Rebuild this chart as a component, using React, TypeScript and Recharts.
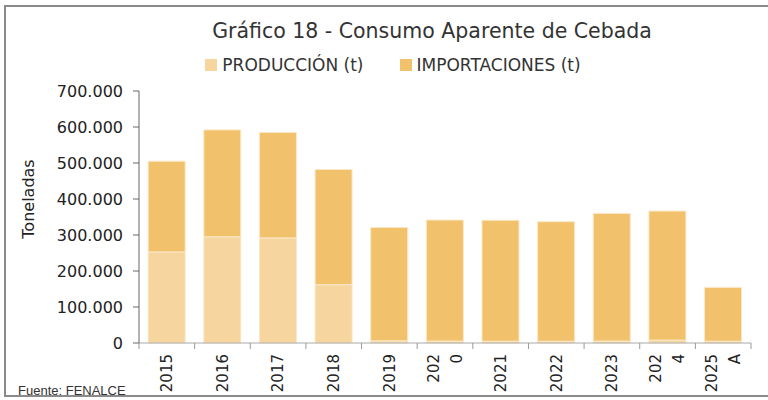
import { BarChart, Bar, XAxis, YAxis, Legend } from "recharts";

const years = ["2015", "2016", "2017", "2018", "2019", "2020", "2021", "2022", "2023", "2024", "2025A"];
// the year labels wrap like in the original (| = line break)
const yearLabels = ["2015", "2016", "2017", "2018", "2019", "202|0", "2021", "2022", "2023", "202|4", "2025|A"];
const produccion = [253000, 295000, 292000, 162000, 6000, 5500, 5000, 5000, 5500, 8000, 5000];
const importaciones = [252000, 297000, 293000, 320000, 315000, 336000, 336000, 332000, 354500, 358500, 149500];
const yTicks = [0, 100000, 200000, 300000, 400000, 500000, 600000, 700000];
const legendOrder = ["PRODUCCIÓN (t)", "IMPORTACIONES (t)"];

const data = years.map((year, i) => ({
  year,
  produccion: produccion[i],
  importaciones: importaciones[i],
}));

const FONT = "'DejaVu Sans', sans-serif";
const PROD_COLOR = "#F6D59F";
const IMP_COLOR = "#F2C16C";

const fmt = (v: number) => String(v).replace(/\B(?=(\d{3})+(?!\d))/g, ".");

function YearTick(props: any) {
  const { x, y, payload, index } = props;
  const half = payload.offset ?? 0;
  const lines = yearLabels[index].split("|");
  const lh = 23;
  const top = y - 10;
  return (
    <g>
      <line x1={x - half} x2={x - half} y1={top} y2={top + 6} stroke="#999" />
      {index === years.length - 1 && (
        <line x1={x + half} x2={x + half} y1={top} y2={top + 6} stroke="#999" />
      )}
      <g transform={`translate(${x},${y + 1}) rotate(-90)`}>
        {lines.map((t, i) => (
          <text
            key={i}
            x={0}
            y={(i - (lines.length - 1) / 2) * lh}
            dy="0.36em"
            textAnchor="end"
            fontSize={15}
            fontFamily={FONT}
            fill="#222"
          >
            {t}
          </text>
        ))}
      </g>
    </g>
  );
}

function LegendBox(props: any) {
  const items = [...(props.payload || [])].sort(
    (a: any, b: any) => legendOrder.indexOf(a.value) - legendOrder.indexOf(b.value)
  );
  return (
    <div
      style={{
        display: "flex",
        justifyContent: "center",
        gap: 36,
        paddingLeft: 18,
        fontFamily: FONT,
        fontSize: 17,
        color: "#333",
      }}
    >
      {items.map((it: any) => (
        <span key={it.value} style={{ display: "flex", alignItems: "center" }}>
          <span style={{ width: 12, height: 12, background: it.color, marginRight: 5, display: "inline-block" }} />
          {it.value}
        </span>
      ))}
    </div>
  );
}

export default function App() {
  return (
    <div style={{ position: "absolute", left: 0, top: 0, width: 768, height: 400, overflow: "hidden", background: "#fff" }}>
      <div
        style={{
          position: "absolute",
          left: 4,
          top: 5,
          width: 770,
          height: 392,
          borderTop: "2px solid #8a8a8a",
          borderLeft: "2px solid #8a8a8a",
          borderBottom: "2px solid #8a8a8a",
          boxSizing: "border-box",
        }}
      />
      <div
        style={{
          position: "absolute",
          left: 0,
          top: 19,
          width: 864,
          textAlign: "center",
          fontFamily: FONT,
          fontSize: 20.5,
          color: "#333",
        }}
      >
        Gráfico 18 - Consumo Aparente de Cebada
      </div>
      <div style={{ position: "absolute", left: 0, top: 0 }}>
        <BarChart
          width={768}
          height={400}
          data={data}
          barCategoryGap="16.5%"
          margin={{ top: 91, right: 17, bottom: 7, left: 0 }}
        >
          <XAxis
            dataKey="year"
            height={50}
            interval={0}
            tickLine={false}
            tickSize={6}
            tickMargin={4}
            axisLine={{ stroke: "#aaa" }}
            tick={<YearTick />}
          />
          <YAxis
            width={139}
            domain={[0, 700000]}
            ticks={yTicks}
            tickFormatter={fmt}
            tickSize={6}
            tickMargin={10}
            axisLine={{ stroke: "#666" }}
            tickLine={{ stroke: "#666" }}
            tick={{ fontSize: 16, fontFamily: FONT, fill: "#222" }}
            label={({ viewBox }: any) => (
              <text
                transform={`translate(${viewBox.x + 28},${viewBox.y + viewBox.height / 2 - 18}) rotate(-90)`}
                textAnchor="middle"
                dy="0.36em"
                fontSize={16}
                fontFamily={FONT}
                fill="#222"
              >
                Toneladas
              </text>
            )}
          />
          <Legend
            layout="horizontal"
            verticalAlign="middle"
            wrapperStyle={{ top: 55, left: 0, width: 768 }}
            content={<LegendBox />}
          />
          <Bar
            dataKey="produccion"
            name="PRODUCCIÓN (t)"
            stackId="a"
            fill={PROD_COLOR}
            stroke="#FBE8C8"
            strokeWidth={1}
            isAnimationActive={false}
          />
          <Bar
            dataKey="importaciones"
            name="IMPORTACIONES (t)"
            stackId="a"
            fill={IMP_COLOR}
            stroke="#FBE8C8"
            strokeWidth={1}
            isAnimationActive={false}
          />
        </BarChart>
      </div>
      <div
        style={{
          position: "absolute",
          left: 18,
          top: 383,
          fontFamily: "'Liberation Sans', sans-serif",
          fontSize: 13,
          color: "#333",
        }}
      >
        Fuente: FENALCE
      </div>
    </div>
  );
}
